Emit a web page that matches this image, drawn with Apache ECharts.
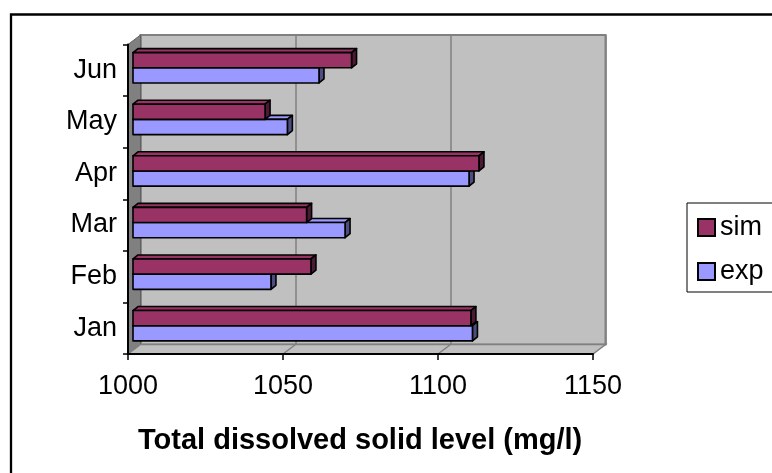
<!DOCTYPE html>
<html>
<head>
<meta charset="utf-8">
<script src="https://cdn.jsdelivr.net/npm/echarts@6/dist/echarts.min.js"></script>
<style>html,body{margin:0;padding:0;background:#fff}#c{width:772px;height:473px}</style>
</head>
<body>
<div id="c"></div>
<script>
const categories = ['Jan', 'Feb', 'Mar', 'Apr', 'May', 'Jun'];
const simValues = [1109, 1057.4, 1056, 1111.6, 1042.6, 1070.5];
const expValues = [1109.5, 1044.5, 1068.4, 1108.4, 1049.8, 1060];
const xTicks = [1000, 1050, 1100, 1150];

const FONT = "'Liberation Sans', Arial, sans-serif";
// layout constants
const F = { left: 128, top: 44.5, width: 465, height: 309.5 };   // front plane
const D = { dx: 12.5, dy: -9.5 };                                // wall depth
const B = { left: F.left + D.dx, top: F.top + D.dy, width: F.width, height: F.height }; // back wall
const BAR = { dx: 5, dy: -4, h: 15.2, shift: -2.5, ox: 5 };

const chart = echarts.init(document.getElementById('c'), null, { renderer: 'canvas' });

function bar3d(upper, fill, side) {
  return function (params, api) {
    const cat = api.value(1);
    const p0 = api.coord([xTicks[0], cat]);
    const p1 = api.coord([api.value(0), cat]);
    const mid = p0[1] + BAR.shift;
    const yTop = upper ? mid - BAR.h : mid;
    const yBot = upper ? mid : mid + BAR.h;
    const x0 = p0[0] + BAR.ox, x1 = p1[0] + BAR.ox;
    const ls = { stroke: '#000', lineWidth: 1.6, lineJoin: 'round' };
    return {
      type: 'group',
      children: [
        { type: 'polygon', shape: { points: [[x0, yTop], [x1, yTop], [x1 + BAR.dx, yTop + BAR.dy], [x0 + BAR.dx, yTop + BAR.dy]] },
          style: Object.assign({ fill: fill }, ls) },
        { type: 'polygon', shape: { points: [[x1, yTop], [x1 + BAR.dx, yTop + BAR.dy], [x1 + BAR.dx, yBot + BAR.dy], [x1, yBot]] },
          style: Object.assign({ fill: side }, ls) },
        { type: 'rect', shape: { x: x0, y: yTop, width: x1 - x0, height: yBot - yTop },
          style: Object.assign({ fill: fill }, ls) }
      ]
    };
  };
}

const fb = F.top + F.height;
const bb = B.top + B.height;

const option = {
  animation: false,
  backgroundColor: '#fff',
  textStyle: { fontFamily: FONT },
  title: {
    text: 'Total dissolved solid level (mg/l)',
    left: 133, top: 421,
    textStyle: { fontFamily: FONT, fontSize: 29, fontWeight: 'bold', color: '#000' }
  },
  legend: {
    orient: 'vertical',
    left: 687, top: 203,
    data: ['sim', 'exp'],
    icon: 'rect',
    itemWidth: 17, itemHeight: 17,
    itemGap: 17,
    padding: [11, 30, 7, 10],
    borderColor: '#000', borderWidth: 1,
    itemStyle: { borderColor: '#000', borderWidth: 2 },
    textStyle: { fontFamily: FONT, fontSize: 27, color: '#000' }
  },
  grid: [
    { left: B.left, top: B.top, width: B.width, height: B.height, show: true,
      backgroundColor: '#c0c0c0', borderColor: '#808080', borderWidth: 2, z: 0 },
    { left: F.left, top: F.top, width: F.width, height: F.height, show: false }
  ],
  xAxis: [
    { gridIndex: 0, type: 'value', min: 1000, max: 1150, interval: 50,
      axisLine: { show: false }, axisTick: { show: false }, axisLabel: { show: false },
      splitLine: { show: true, lineStyle: { color: '#808080', width: 1.5 } } },
    { gridIndex: 1, type: 'value', min: 1000, max: 1150, interval: 50, z: 5,
      axisLine: { show: true, onZero: false, lineStyle: { color: '#000', width: 2 } },
      axisTick: { show: true, length: 6, lineStyle: { color: '#000', width: 1.5 } },
      axisLabel: { fontFamily: FONT, fontSize: 27, color: '#000', margin: 19,
        formatter: v => String(v) },
      splitLine: { show: false } }
  ],
  yAxis: [
    { gridIndex: 0, type: 'value', show: false, splitLine: { show: false } },
    { gridIndex: 1, type: 'category', data: categories, z: 5,
      axisLine: { show: true, lineStyle: { color: '#000', width: 2 } },
      axisTick: { show: true, length: 5, lineStyle: { color: '#000', width: 1.5 } },
      axisLabel: { fontFamily: FONT, fontSize: 27, color: '#000', margin: 11 } }
  ],
  graphic: [
    { type: 'polygon', z: 1, silent: true,
      shape: { points: [[F.left, F.top], [B.left, B.top], [B.left, bb], [F.left, fb]] },
      style: { fill: '#808080', stroke: '#606060', lineWidth: 1 } },
    { type: 'polygon', z: 1, silent: true,
      shape: { points: [[F.left, fb], [F.left + F.width, fb], [B.left + B.width, bb], [B.left, bb]] },
      style: { fill: '#c0c0c0', stroke: '#808080', lineWidth: 1.5 } },
    { type: 'line', z: 1, silent: true,
      shape: { x1: F.left + F.width / 3, y1: fb, x2: B.left + B.width / 3, y2: bb },
      style: { stroke: '#808080', lineWidth: 1.5 } },
    { type: 'line', z: 1, silent: true,
      shape: { x1: F.left + 2 * F.width / 3, y1: fb, x2: B.left + 2 * B.width / 3, y2: bb },
      style: { stroke: '#808080', lineWidth: 1.5 } },
    { type: 'rect', z: 10, silent: true,
      shape: { x: 11, y: 14.5, width: 800, height: 500 },
      style: { fill: null, stroke: '#000', lineWidth: 2.3 } }
  ],
  series: [
    { name: 'exp', type: 'custom', xAxisIndex: 1, yAxisIndex: 1, z: 6,
      itemStyle: { color: '#9999ff' },
      renderItem: bar3d(false, '#9999ff', '#4d4d80'),
      encode: { x: 0, y: 1 },
      data: expValues.map((v, i) => [v, i]) },
    { name: 'sim', type: 'custom', xAxisIndex: 1, yAxisIndex: 1, z: 7,
      itemStyle: { color: '#993366' },
      renderItem: bar3d(true, '#993366', '#4d1a33'),
      encode: { x: 0, y: 1 },
      data: simValues.map((v, i) => [v, i]) }
  ]
};
chart.setOption(option);
</script>
</body>
</html>
